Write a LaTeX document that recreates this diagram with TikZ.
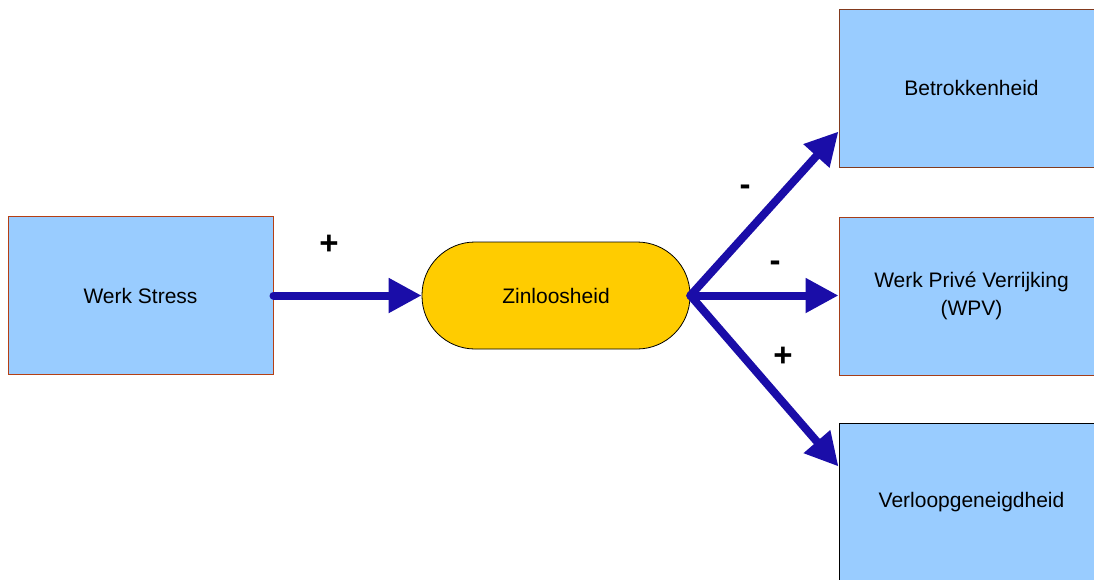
\documentclass[tikz,border=0pt]{standalone}
\usepackage{fontspec}
\setmainfont{Liberation Sans}
\usetikzlibrary{arrows.meta}
\definecolor{boxfill}{RGB}{153,204,255}
\definecolor{pillfill}{RGB}{255,204,0}
\definecolor{flow}{RGB}{26,13,168}
\definecolor{edgeA}{RGB}{181,64,20}
\definecolor{edgeB}{RGB}{130,58,30}
\definecolor{edgeC}{RGB}{165,62,25}
\tikzset{
  factor/.style={draw, line width=1pt, fill=boxfill, minimum width=265pt,
    minimum height=158pt, inner sep=0pt, align=center,
    font=\fontsize{21}{28}\selectfont},
  pill/.style={draw=black, line width=0.8pt, fill=pillfill, rounded corners=53pt,
    minimum width=268pt, minimum height=107pt, inner sep=0pt,
    font=\fontsize{21}{28}\selectfont},
  flowarrow/.style={draw=flow, line width=8pt, line cap=round,
    -{Triangle[length=33pt,width=33pt]}},
  sign/.style={font=\fontsize{33}{33}\selectfont\bfseries, inner sep=0pt}
}
\begin{document}
\begin{tikzpicture}[x=1pt,y=-1pt]
  \useasboundingbox (0,0) rectangle (1094,579);
  % factor boxes
  \node[factor, draw=edgeA] (ws)  at (140.5,295.5) {Werk Stress};
  \node[factor, draw=edgeB] (bet) at (971.5,88)    {Betrokkenheid};
  \node[factor, draw=edgeC] (wpv) at (971.5,296)   {Werk Privé Verrijking\\(WPV)};
  \node[factor, draw=black] (vl)  at (971.5,502)   {Verloopgeneigdheid};
  % central mediator
  \node[pill] (zin) at (556,295.5) {Zinloosheid};
  % arrow end points on the left sides of the outcome boxes
  \coordinate (betin) at ([yshift=36pt]bet.south west);
  \coordinate (vlin)  at ([yshift=-44pt]vl.north west);
  % effects
  \draw[flowarrow] (ws.east) -- (zin.west);
  \draw[flowarrow] (zin.east) -- (betin);
  \draw[flowarrow] (zin.east) -- (zin.east -| wpv.west);
  \draw[flowarrow] (zin.east) -- (vlin);
  % signs of the effects
  \node[sign] (s1) at (329,245) {+};
  \node[sign] (s2) at (745,190) {-};
  \node[sign] (s3) at (775,266) {-};
  \node[sign] (s4) at (783,357) {+};
\end{tikzpicture}
\end{document}
